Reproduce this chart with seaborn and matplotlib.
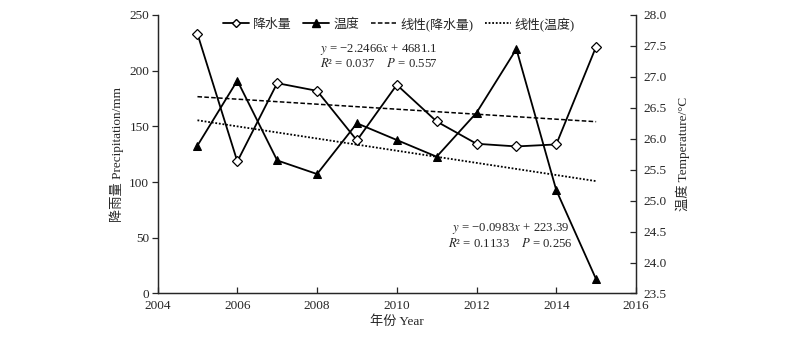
import numpy as np
import pandas as pd
import matplotlib
matplotlib.use("Agg")
import matplotlib.pyplot as plt
import seaborn as sns
from matplotlib.lines import Line2D

years = [2005, 2006, 2007, 2008, 2009, 2010, 2011, 2012, 2013, 2014, 2015]
precip = [233, 118.5, 188.8, 181.9, 137.4, 187.3, 154.4, 134.4, 132, 133.8, 221.6]
temp = [25.89, 26.94, 25.65, 25.43, 26.25, 25.98, 25.71, 26.42, 27.45, 25.17, 23.73]
precip_fit = [-2.2466, 4681.1]
temp_fit = [-0.0983, 223.39]
left_ticks = [0, 50, 100, 150, 200, 250]
right_ticks = [23.5, 24.0, 24.5, 25.0, 25.5, 26.0, 26.5, 27.0, 27.5, 28.0]
x_ticks = [2004, 2006, 2008, 2010, 2012, 2014, 2016]

sns.set_style("ticks")
plt.rcParams['font.family'] = ['Liberation Serif', 'Noto Sans CJK SC']
plt.rcParams['mathtext.fontset'] = 'stix'
plt.rcParams['axes.unicode_minus'] = True

df = pd.DataFrame({"year": years, "precip": precip, "temp": temp})
yr = np.array(years, dtype=float)
df["pfit"] = precip_fit[0] * yr + precip_fit[1]
df["tfit"] = temp_fit[0] * yr + temp_fit[1]

fig = plt.figure(figsize=(8, 3.38), dpi=100)
ax = fig.add_axes([0.197, 0.1317, 0.598, 0.824])
ax2 = ax.twinx()

sns.lineplot(data=df, x="year", y="precip", ax=ax, color="black", lw=1.3,
             marker="D", markersize=4.8, markerfacecolor="white",
             markeredgecolor="black", markeredgewidth=0.9)
sns.lineplot(data=df, x="year", y="pfit", ax=ax, color="black", lw=1.1,
             linestyle=(0, (3, 1.5)))
sns.lineplot(data=df, x="year", y="temp", ax=ax2, color="black", lw=1.3,
             marker="^", markersize=6, markerfacecolor="black",
             markeredgecolor="black")
sns.lineplot(data=df, x="year", y="tfit", ax=ax2, color="black", lw=1.3,
             linestyle=(0, (1, 1)))

ax.set_xlim(2004, 2016)
ax.set_ylim(0, 250)
ax2.set_ylim(23.5, 28.0)
ax.set_xticks(x_ticks)
ax.set_yticks(left_ticks)
ax2.set_yticks(right_ticks)
ax2.set_yticklabels([f"{v:.1f}" for v in right_ticks])

for a in (ax, ax2):
    a.spines['top'].set_visible(False)
    for s in a.spines.values():
        s.set_linewidth(0.9)
ax.tick_params(axis='y', direction='out', length=4, width=0.9, labelsize=9.5, pad=2)
ax.tick_params(axis='x', direction='in', length=4, width=0.9, labelsize=9.5, pad=4.5)
ax2.tick_params(axis='y', direction='in', length=4, width=0.9, labelsize=9.5, pad=5)

ax.set_xlabel("年份 Year", fontsize=9.5, labelpad=3)
ax.set_ylabel("降雨量 Precipitation/mm", fontsize=9.5, labelpad=4)
ax2.set_ylabel("温度 Temperature/°C", fontsize=9.5, labelpad=7)

ax.text(0.462, 0.875, r"$y$ = −2.2466$x$ + 4681.1", transform=ax.transAxes,
        ha="center", va="center", fontsize=9.2)
ax.text(0.462, 0.824, r"$R$² = 0.037    $P$ = 0.557", transform=ax.transAxes,
        ha="center", va="center", fontsize=9.2)
ax.text(0.738, 0.234, r"$y$ = −0.0983$x$ + 223.39", transform=ax.transAxes,
        ha="center", va="center", fontsize=9.2)
ax.text(0.738, 0.180, r"$R$² = 0.1133    $P$ = 0.256", transform=ax.transAxes,
        ha="center", va="center", fontsize=9.2)

handles = [
    Line2D([], [], color="black", lw=1.3, marker="D", markersize=4.5,
           markerfacecolor="white", markeredgecolor="black"),
    Line2D([], [], color="black", lw=1.3, marker="^", markersize=6,
           markerfacecolor="black"),
    Line2D([], [], color="black", lw=1.1, linestyle=(0, (3, 1.5))),
    Line2D([], [], color="black", lw=1.3, linestyle=(0, (1, 1))),
]
labels = ["降水量", "温度", "线性(降水量)", "线性(温度)"]
ax.legend(handles, labels, loc="upper center", bbox_to_anchor=(0.505, 1.035),
          ncol=4, frameon=False, fontsize=9.3, handlelength=2.0,
          columnspacing=0.9, handletextpad=0.3)

fig.savefig("out.png", dpi=100)
